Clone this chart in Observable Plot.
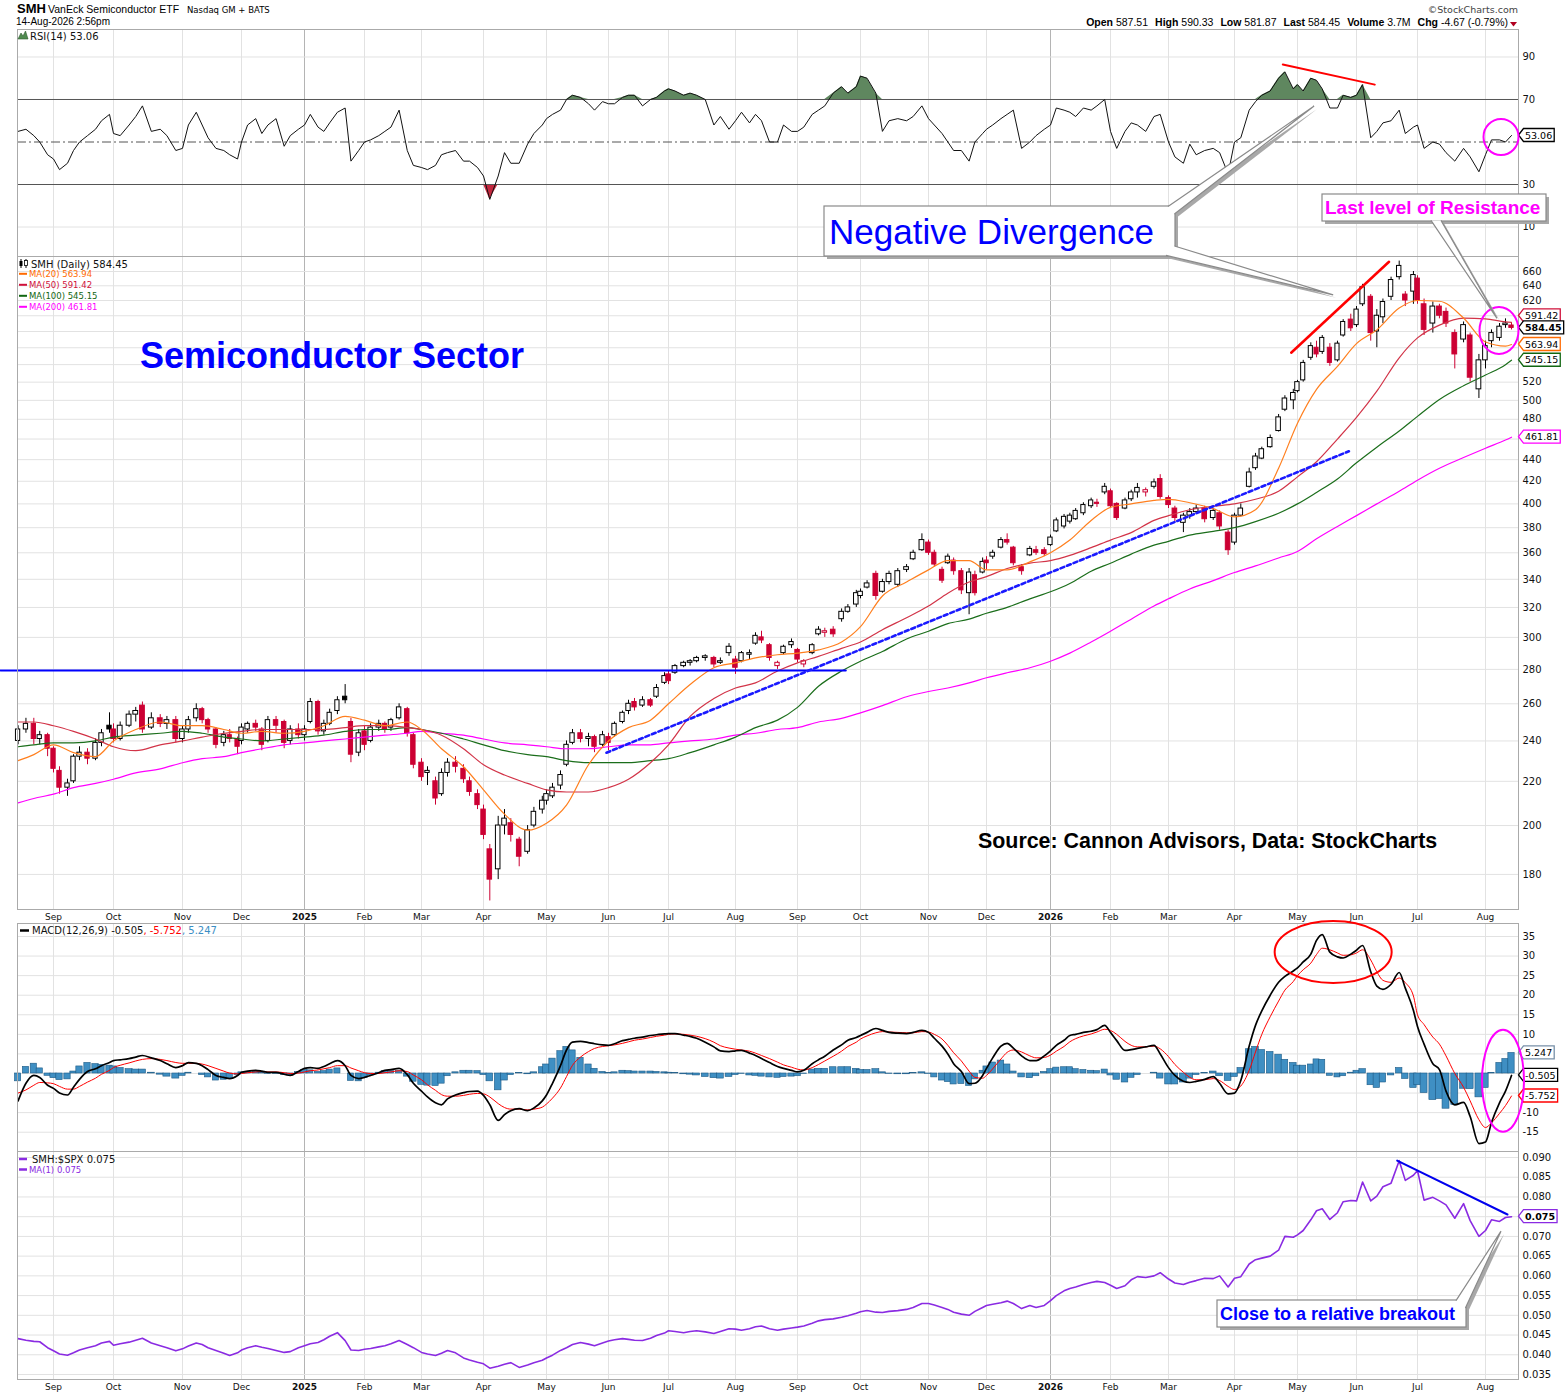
<!DOCTYPE html>
<html><head><meta charset="utf-8"><title>SMH - Semiconductor Sector</title>
<script src="https://cdn.jsdelivr.net/npm/d3@7"></script>
<script src="https://cdn.jsdelivr.net/npm/@observablehq/plot@0.6"></script>
<style>
html,body{margin:0;padding:0;background:#fff}
#page{position:relative;width:1565px;height:1396px;overflow:hidden;background:#fff}
#page svg{position:absolute;left:0;display:block}
</style></head><body><div id="page"></div>
<script>
// ---------------- time axis: month starts (StockCharts spaces them by trading days) ----------------
const monthStarts = ["2024-08-01","2024-09-01","2024-10-01","2024-11-01","2024-12-01","2025-01-01","2025-02-01","2025-03-01","2025-04-01","2025-05-01","2025-06-01","2025-07-01","2025-08-01","2025-09-01","2025-10-01","2025-11-01","2025-12-01","2026-01-01","2026-02-01","2026-03-01","2026-04-01","2026-05-01","2026-06-01","2026-07-01","2026-08-01","2026-09-01"];
const monthPx = [-8,53,113,182,241,304,364,421,483,546,608,668,735,797,860,928,986,1050,1110,1168,1234,1297,1356,1417,1485,1547];
const tickLabels = ["Sep","Oct","Nov","Dec","2025","Feb","Mar","Apr","May","Jun","Jul","Aug","Sep","Oct","Nov","Dec","2026","Feb","Mar","Apr","May","Jun","Jul","Aug"];
const sampleDays = [1,4,8,11,14,18,22,25,29];   // sampled sessions per month
const maDays = [1,11,22];                        // moving-average read points per month

// ---------------- SMH candles ----------------
const opens = [
240,246,249,241,243,
236,225,217,220,232,234,231,239,248,
246,241,248,254,259,247,252,249,251,
241,246,252,257,251,246,239,243,241,
240,246,249,246,240,251,250,240,246,
243,250,261,245,249,256,264,250,234,
245,240,247,249,247,252,257,243,
229,224,220,214,224,229,226,220,214,
207,190,182,200,201,194,189,200,207,
211,213,218,228,239,244,241,242,238,
242,243,250,256,261,259,262,264,272,
277,278,282,284,285,287,287,284,290,
286,285,289,296,300,295,282,290,295,
292,283,290,302,303,305,312,317,322,
328,334,344,331,338,336,347,355,362,
368,360,347,352,354,346,330,343,345,
354,357,364,370,364,349,358,362,362,
366,377,381,385,387,392,398,401,410,
411,400,396,404,410,410,415,422,
405,396,384,390,393,396,388,392,376,
368,390,415,432,441,452,468,490,500,
510,522,548,560,555,560,545,575,595,
588,615,625,580,598,625,652,628,632,
650,615,590,612,605,578,570,575,512,
545,568,572,588,587.51];
const highs = [
248,252,252,245,244,
237,227,221,233,237,236,241,246,255,
249,250,256,258,261,255,254,253,253,
248,253,260,258,252,247,245,246,242,
249,250,251,247,253,253,251,248,249,
248,263,262,251,257,264,271,252,246,
248,249,251,250,252,260,258,244,
231,227,222,226,231,232,228,222,216,
209,192,204,207,203,195,200,208,213,
216,219,225,240,246,246,244,243,245,
244,250,256,262,263,264,263,271,278,
279,283,285,286,288,289,288,287,296,
288,291,292,303,304,296,285,295,299,
293,286,296,307,306,307,319,322,332,
333,339,346,340,346,348,351,362,375,
370,362,349,359,356,348,348,346,356,
357,362,372,375,365,351,365,365,364,
374,388,391,392,396,401,405,404,418,
413,401,405,412,418,414,422,426,
407,398,392,396,399,398,396,394,378,
392,400,432,446,452,464,485,505,512,
522,545,566,568,575,565,568,595,602,
612,642,628,608,622,652,675,632,660,
654,622,618,615,610,582,592,578,552,
568,582,590,596,590.33];
const lows = [
238,244,238,238,232,
224,214,213,219,230,228,230,237,244,
239,240,247,250,244,246,247,246,239,
239,244,250,249,244,236,237,239,233,
238,244,245,235,239,244,236,238,241,
240,249,243,243,248,254,260,229,232,
235,239,245,244,245,251,242,226,
220,218,209,213,222,224,219,213,207,
194,170,178,196,193,183,188,199,205,
209,212,216,227,238,239,237,234,237,
235,242,249,254,256,258,258,263,271,
271,277,281,282,284,285,281,283,288,
277,284,286,295,296,285,280,289,293,
284,281,289,301,300,300,310,316,320,
326,333,325,330,336,334,345,354,361,
358,349,337,351,343,329,315,328,344,
347,355,363,366,350,343,357,358,357,
365,376,379,383,386,390,396,397,408,
396,386,395,402,405,406,413,404,
396,385,376,387,391,384,386,378,358,
366,389,414,430,440,451,467,488,490,
508,520,545,548,552,538,543,573,580,
585,612,568,560,590,620,648,612,615,
615,575,578,596,585,535,566,520,502,
535,560,568,584,581.87];
const closes = [
246,249,241,243,236,
226,217,219,232,234,231,239,244,246,
241,248,254,256,246,252,249,251,241,
246,251,257,251,246,238,243,241,237,
247,249,247,238,251,248,239,246,243,
246,261,245,249,255,262,262,233,244,
238,247,249,246,251,258,244,228,
222,225,212,224,229,227,221,215,209,
196,178,200,203,196,187,198,206,211,
214,217,223,238,244,241,242,237,243,
239,249,255,260,258,262,259,269,276,
273,282,284,285,287,288,283,285,294,
281,290,290,301,298,287,284,294,297,
286,285,295,305,304,302,317,320,330,
331,337,328,338,344,346,349,360,370,
360,351,339,357,346,332,345,330,353,
352,360,370,368,352,346,363,360,359,
372,386,389,390,394,399,403,400,415,
398,388,403,410,414,412,419,406,
399,388,390,393,396,387,394,381,362,
390,396,428,443,450,461,482,502,508,
520,542,562,552,572,542,565,592,584,
608,638,578,600,618,648,668,620,655,
620,582,612,600,590,552,588,525,545,
562,578,586,590,584.45];

// ---------------- moving averages (read at maDays) ----------------
const ma20 = [230,233, 238,234,232, 240,246,250, 248,248,246, 244,245,244, 245,248,253, 251,248,250, 246,236,227, 216,205,198, 201,209,228, 240,247,251, 260,271,281, 284,287,289, 290,292,297, 307,328,338, 347,354,354, 347,347,353, 360,370,386, 397,400,403, 404,401,396, 389,395,432, 476,512,538, 565,582,610, 620,619,597, 567,562,563.94];
const ma50 = [250,250, 248,245,241, 237,235,238, 240,242,244, 245,246,246, 246,246,247, 248,248,247, 246,243,236, 228,223,219, 216,215,215, 217,221,229, 238,253,263, 269,272,279, 284,288,293, 297,305,313, 321,330,338, 342,348,352, 354,358,364, 370,376,386, 390,395,398, 400,404,411, 424,438,460, 482,510,548, 572,588,597, 596,592,591.42];
const ma100 = [237,238, 239,239,240, 242,243,244, 245,244,242, 241,240,241, 242,243,245, 246,246,247, 246,244,241, 238,235,233, 232,230,229, 229,229,230, 231,234,238, 242,247,251, 258,270,279, 285,291,299, 304,309,312, 316,320,326, 331,337,346, 352,359,366, 369,374,377, 380,385,392, 400,410,422, 437,452,468, 483,501,516, 528,540,545.15];
const ma200 = [210,212, 214,217,219, 221,224,226, 229,231,232, 234,236,238, 239,240,241, 242,243,244, 245,244,243, 241,239,238, 237,236,236, 237,238,238, 239,240,241, 243,244,246, 247,250,252, 255,259,264, 267,269,272, 275,278,281, 285,290,297, 304,312,321, 326,333,339, 345,350,356, 361,371,381, 390,400,411, 421,432,442, 451,459,461.81];

// ---------------- RSI(14) ----------------
const rsi14 = [
55,56,53,50,44,
42,37,40,46,50,53,56,60,63,
54,53,58,62,67,55,56,53,46,
47,58,64,58,52,47,46,44,42,
50,58,61,54,58,61,48,53,56,
58,63,57,55,59,64,66,41,46,
50,51,53,55,57,65,46,39,
38,37,39,44,45,46,41,41,38,
34,23,34,45,40,40,49,54,58,
61,63,65,70,72,71,68,65,69,
68,68,71,72,72,67,70,71,74,
75,74,72,73,72,70,58,62,56,
60,64,59,63,60,50,50,58,55,
55,57,63,65,67,73,76,73,76,
81,80,73,55,60,61,60,62,67,
61,58,54,50,46,46,41,50,54,
56,58,61,63,65,47,50,53,56,
58,66,65,64,62,66,65,67,70,
55,47,55,59,58,55,62,63,
50,43,40,49,44,46,47,45,35,
50,52,65,69,72,74,80,83,75,
77,74,80,79,75,66,66,72,71,
72,77,52,55,59,60,65,54,57,
58,47,50,49,45,41,47,43,36,
44,51,51,50,53.06];

// ---------------- MACD(12,26,9) ----------------
const macdLine = [
-7,-2.5,-0.5,-1,-3,
-3.8,-5,-5.5,-3.5,-1.5,0.5,1.2,2,2.8,
3.3,3.5,3.8,4.2,4.6,4,3.3,2.5,1.5,
2,2.8,2.6,2,1,-0.5,-1,-1.3,-0.5,
0.3,0.6,0.8,0.6,0.3,0.3,-0.2,-0.5,0.5,
1.3,1.5,1.3,1.8,2.5,3.3,2,-0.5,-1.3,
-1,-0.5,0.2,0.8,1,1.3,-0.3,-2.5,
-4.5,-6,-7.5,-8,-6.5,-5.5,-4.9,-4.6,-4.5,
-5.6,-8,-12,-10.5,-9.5,-9,-9.5,-8.8,-7,
-5.5,-2.5,2,6,8,8.2,7.9,7.6,7.3,
7.2,7.6,8.4,8.7,9,9.3,9.7,9.9,10.1,
10.2,10.2,9.8,9.5,9,8,6.8,5.8,5.6,
5.8,5.9,5.2,4.6,3.8,2.8,1.8,1.3,0.8,
0.4,0.8,2.5,3.5,4.4,6,7.3,8.5,9.2,
9.7,10.5,11.5,11,10.5,10.3,10.2,10.5,11,
10.5,9,7,5,2.5,0.5,-2.6,-2.5,-0.5,
1.3,4,7,7.7,6.5,4.5,3.3,3.3,4.5,
5.8,7.2,8.5,9.7,10,10.5,10.8,11.2,12.3,
10.5,8.4,5.9,6.1,6.4,6.8,7.2,5,
1.5,-0.5,-2,-2.3,-2,-1.5,-0.8,-2.5,-5.2,
-5,-1.8,7,12.3,16,20,23.3,24.8,26.2,
27,28.5,30.5,34,35.5,31,29.8,29.5,30.5,
31.5,32.7,26,22.3,21.5,22.8,25.8,21.8,16.1,
12,7.5,2.5,1,-4.5,-8,-7.4,-11,-17.9,
-17.5,-12.5,-7.5,-4.5,-0.505];
const macdSignal = [
-5,-4.2,-3,-2.3,-2.4,
-2.6,-3.3,-4,-4,-3.3,-2.2,-1.2,-0.2,0.8,
1.5,2.1,2.7,3.2,3.6,3.8,3.6,3.3,2.8,
2.6,2.6,2.6,2.4,2,1.3,0.6,0.1,-0.1,
0,0.2,0.4,0.5,0.4,0.4,0.2,0,0.1,
0.4,0.7,0.9,1.2,1.5,2,2,1.4,0.7,
0.2,0,0,0.2,0.4,0.7,0.5,-0.4,
-1.6,-2.9,-4.3,-5.4,-5.8,-5.8,-5.6,-5.3,-5.1,
-5.2,-6,-7.7,-8.7,-9.1,-9.1,-9.3,-9.1,-8.6,
-7.8,-6.3,-3.7,-0.8,2.1,4.2,5.6,6.4,6.9,
7.1,7.3,7.7,8.1,8.5,8.8,9.2,9.5,9.8,
10,10.1,10,9.8,9.5,8.9,8,7.1,6.5,
6.2,6,5.7,5.2,4.6,3.8,2.9,2.2,1.6,
1.1,0.9,1.5,2.3,3.2,4.4,5.7,6.9,8,
8.8,9.6,10.4,10.7,10.6,10.5,10.4,10.4,10.7,
10.6,10,8.8,7.2,5.3,3.2,0.6,-1,-1.2,
-0.5,1.2,3.7,5.4,6,5.5,4.5,4,4.1,
4.7,5.7,6.9,8.1,8.9,9.6,10.1,10.6,11.3,
11,10,8.2,7.2,6.8,6.8,7,6.3,
4.3,2.3,0.3,-1,-1.6,-1.6,-1.3,-1.8,-3.3,
-4.1,-3.2,0.8,5.5,10,14.5,18.5,21.3,23.5,
25,26.5,28.2,30.4,32,31.6,30.8,30.2,30.3,
30.8,31.6,29,26,23.8,23.3,24.4,23.2,19.8,
15,12.5,9.3,7.5,4.5,0,-3.5,-7,-11.8,
-13.8,-12.6,-10.2,-8.2,-5.752];

// ---------------- SMH:$SPX ratio ----------------
const smhSpx = [
0.0441,0.0437,0.0434,0.0433,0.0418,
0.0410,0.0402,0.0399,0.0405,0.0412,0.0418,0.0423,0.0430,0.0434,
0.0424,0.0428,0.0432,0.0437,0.0442,0.0430,0.0423,0.0418,0.0410,
0.0415,0.0422,0.0430,0.0426,0.0418,0.0411,0.0404,0.0398,0.0405,
0.0412,0.0418,0.0423,0.0419,0.0416,0.0411,0.0406,0.0408,0.0418,
0.0423,0.0428,0.0431,0.0438,0.0447,0.0456,0.0436,0.0412,0.0411,
0.0414,0.0416,0.0420,0.0423,0.0428,0.0436,0.0426,0.0418,
0.0406,0.0402,0.0398,0.0404,0.0411,0.0405,0.0392,0.0387,0.0381,
0.0377,0.0366,0.0371,0.0376,0.0380,0.0368,0.0374,0.0380,0.0386,
0.0392,0.0399,0.0411,0.0418,0.0426,0.0431,0.0427,0.0423,0.0430,
0.0435,0.0438,0.0441,0.0439,0.0437,0.0436,0.0442,0.0449,0.0455,
0.0461,0.0459,0.0456,0.0459,0.0461,0.0458,0.0454,0.0459,0.0466,
0.0465,0.0462,0.0466,0.0471,0.0473,0.0466,0.0462,0.0465,0.0468,
0.0470,0.0473,0.0480,0.0486,0.0489,0.0491,0.0495,0.0499,0.0505,
0.0509,0.0512,0.0508,0.0507,0.0510,0.0512,0.0515,0.0520,0.0530,
0.0530,0.0526,0.0520,0.0515,0.0508,0.0503,0.0500,0.0510,0.0520,
0.0525,0.0528,0.0532,0.0536,0.0530,0.0517,0.0525,0.0520,0.0525,
0.0537,0.0550,0.0562,0.0568,0.0572,0.0578,0.0583,0.0586,0.0583,
0.0576,0.0568,0.0575,0.0590,0.0598,0.0596,0.0600,0.0608,
0.0592,0.0582,0.0578,0.0584,0.0588,0.0594,0.0593,0.0600,0.0572,
0.0594,0.0598,0.0630,0.0641,0.0645,0.0650,0.0665,0.0700,0.0698,
0.0704,0.0715,0.0742,0.0765,0.0770,0.0743,0.0760,0.0788,0.0791,
0.0790,0.0838,0.0790,0.0802,0.0826,0.0835,0.0892,0.0842,0.0855,
0.0867,0.0792,0.0799,0.0790,0.0780,0.0746,0.0783,0.0740,0.0700,
0.0715,0.0742,0.0738,0.0748,0.0750];

// ---------------- drawn annotations (data coordinates) ----------------
const rsiDivergence   = [{date:"2026-04-24", v:86.5}, {date:"2026-06-10", v:77}];
const priceDivergence = [{date:"2026-04-28", v:554},  {date:"2026-06-17", v:674}];
const supportLine     = [{date:"2025-05-31", v:234},  {date:"2026-05-28", v:448}];
const resistanceLine  = [{date:"2024-08-05", v:279.4},{date:"2025-09-24", v:279.4}];
const ratioDownTrend  = [{date:"2026-06-21", v:0.0892},{date:"2026-08-12", v:0.07555}];
const rings = [
  {panel:"rsi",   date:"2026-08-09", v:52.1,  rx:17.5, ry:18,   color:"#ff00ff"},
  {panel:"price", date:"2026-08-08", v:580.6, rx:19.5, ry:23.5, color:"#ff00ff"},
  {panel:"macd",  date:"2026-05-20", v:30.9,  rx:58.5, ry:31,   color:"#ff0000"},
  {panel:"macd",  date:"2026-08-10", v:-2,    rx:21,   ry:51,   color:"#ff00ff"}
];
const tips = {
  negDivRsi:   {panel:"rsi",   date:"2026-05-10", v:66.7},
  negDivPrice: {panel:"price", date:"2026-05-20", v:627},
  resistance:  {panel:"price", date:"2026-08-07", v:596},
  breakout:    {panel:"ratio", date:"2026-08-09", v:0.0712}
};

// ================= build =================
const first = Date.UTC(2024,7,14), last = Date.UTC(2026,7,14);
function buildDates(days){
  const out=[];
  for(let k=2024*12+7;k<=2026*12+7;k++){
    const y=Math.floor(k/12), m=k%12;
    for(const d of days){
      const t=Date.UTC(y,m,d);
      if(new Date(t).getUTCMonth()!==m) continue;
      if(t>=first && t<=last) out.push(new Date(t));
    }
  }
  return out;
}
const dates = buildDates(sampleDays);
const maDates = buildDates(maDays); maDates.unshift(new Date(first)); maDates.push(new Date(last));
for (const [n,a] of Object.entries({opens,highs,lows,closes,rsi14,macdLine,macdSignal,smhSpx})) if(a.length!==dates.length) throw new Error(n+" has "+a.length+" values, expected "+dates.length);
for (const [n,a] of Object.entries({ma20,ma50,ma100,ma200})) if(a.length!==maDates.length) throw new Error(n+" has "+a.length+" values, expected "+maDates.length);

const toRows = arr => arr.map(d=>({date:new Date(d.date), v:d.v}));
const RED="#cc0033";
const candles = dates.map((d,i)=>({date:d,open:opens[i],high:highs[i],low:lows[i],close:closes[i],prev:i?closes[i-1]:opens[i]}));
candles.forEach(c=>{c.col = c.close>=c.prev ? "#000000" : RED; c.fillc = c.close<c.open ? c.col : "#ffffff";});
const maRows = maDates.map((d,i)=>({date:d, m20:ma20[i], m50:ma50[i], m100:ma100[i], m200:ma200[i]}));
const rsiRows = dates.map((d,i)=>({date:d, v:rsi14[i]}));
const macdRows = dates.map((d,i)=>({date:d, m:macdLine[i], s:macdSignal[i], h:macdLine[i]-macdSignal[i]}));
const ratioRows = dates.map((d,i)=>({date:d, v:smhSpx[i]}));
const lastM = macdRows[macdRows.length-1];

const tickRows = tickLabels.map((l,i)=>({date:new Date(monthStarts[i+1]), label:l, year:/^\d{4}$/.test(l)}));
const labelOf = new Map(tickRows.map(t=>[+t.date,t.label]));
const W=1565, ML=17, MR=47;
const VER="'DejaVu Sans', Verdana, sans-serif", SANS="'Liberation Sans', Arial, sans-serif";
const PANEL={rsi:29, price:256, macd:923, ratio:1151};
const Y_RSI={domain:[-3.88,102.94], range:[227,0]};
const Y_PRICE={type:"log", domain:[166.9,681.7], range:[653,0]};
const Y_MACD={domain:[-19.93,38.32], range:[228,0]};
const Y_RATIO={domain:[0.033733,0.091521], range:[228,0]};
// tick labels that sit under a last-value box are covered in the original, so they are left out
function freeTicks(ticks, cfg, vals){
  const s=(cfg.type==="log"?d3.scaleLog():d3.scaleLinear()).domain(cfg.domain).range(cfg.range);
  return ticks.filter(t=>vals.every(v=>Math.abs(s(t)-s(v))>=11));
}
const xOpt = () => ({type:"utc", domain:monthStarts.map(s=>new Date(s)), range:monthPx, axis:null});
const style = {fontFamily:VER, fontSize:"10px", background:"transparent", overflow:"visible", color:"#111"};
const off = (d,h)=>d3.utcHour.offset(d,h);
const vGrid = () => Plot.ruleX(tickRows, {x:"date", stroke:d=>d.year?"#b4b4b4":"#e2e2e2", strokeWidth:1});
const hGrid = t => Plot.ruleY(t, {stroke:"#e2e2e2", strokeWidth:1});
const xLabels = () => [
  Plot.axisX(tickRows.filter(t=>!t.year).map(t=>t.date), {anchor:"bottom", label:null, tickSize:0, tickPadding:4, fontSize:9, tickFormat:d=>labelOf.get(+d)}),
  Plot.axisX(tickRows.filter(t=>t.year).map(t=>t.date), {anchor:"bottom", label:null, tickSize:0, tickPadding:4, fontSize:9, fontWeight:"bold", tickFormat:d=>labelOf.get(+d)})
];
const yAxis = (ticks, fmt) => Plot.axisY({anchor:"right", label:null, ticks, tickSize:0, tickPadding:4, fontSize:10, ...(fmt?{tickFormat:fmt}:{})});

// ---- RSI panel ----
const rsiTicks=[10,30,50,70,90];
const rsiChart = Plot.plot({
  width:W, height:227, marginLeft:ML, marginRight:MR, marginTop:0, marginBottom:0, style,
  x:xOpt(), y:{...Y_RSI, axis:null},
  marks:[
    vGrid(), hGrid([10,90]),
    Plot.areaY(rsiRows,{x:"date", y1:()=>70, y2:d=>Math.max(70,d.v), fill:"#5f875f"}),
    Plot.areaY(rsiRows,{x:"date", y1:d=>Math.min(30,d.v), y2:()=>30, fill:"#c4283f"}),
    Plot.ruleY([70,30],{stroke:"#555"}),
    Plot.ruleY([50],{stroke:"#555", strokeDasharray:"9,3,2,3"}),
    Plot.line(rsiRows,{x:"date", y:"v", stroke:"#111", strokeWidth:1}),
    Plot.line(toRows(rsiDivergence),{x:"date", y:"v", stroke:"#ff0000", strokeWidth:2}),
    yAxis(freeTicks(rsiTicks, Y_RSI, [rsi14[rsi14.length-1]])),
    Plot.frame({stroke:"#aaa"})
  ]
});

// ---- price panel ----
const priceTicks=d3.range(180,661,20);
const priceChart = Plot.plot({
  width:W, height:667, marginLeft:ML, marginRight:MR, marginTop:0, marginBottom:14, style,
  x:xOpt(), y:{...Y_PRICE, axis:null},
  marks:[
    vGrid(), hGrid(priceTicks),
    Plot.ruleX(candles,{x:"date", y1:"low", y2:"high", stroke:"col", strokeWidth:1}),
    Plot.rect(candles,{x1:d=>off(d.date,-26), x2:d=>off(d.date,26), y1:d=>Math.min(d.open,d.close), y2:d=>Math.max(d.open,d.close), fill:"fillc", stroke:"col", strokeWidth:1}),
    Plot.line(maRows,{x:"date", y:"m200", stroke:"#ff00ff", strokeWidth:1.2, curve:"monotone-x"}),
    Plot.line(maRows,{x:"date", y:"m100", stroke:"#1b6e1b", strokeWidth:1.2, curve:"monotone-x"}),
    Plot.line(maRows,{x:"date", y:"m50", stroke:"#d23448", strokeWidth:1.2, curve:"monotone-x"}),
    Plot.line(maRows,{x:"date", y:"m20", stroke:"#ff7f1e", strokeWidth:1.2, curve:"monotone-x"}),
    Plot.line(toRows(resistanceLine),{x:"date", y:"v", stroke:"#0000ff", strokeWidth:2}),
    Plot.line(toRows(supportLine),{x:"date", y:"v", stroke:"#1a1aff", strokeWidth:2.6, strokeDasharray:"4,3"}),
    Plot.line(toRows(priceDivergence),{x:"date", y:"v", stroke:"#ff0000", strokeWidth:2.5}),
    yAxis(freeTicks(priceTicks, Y_PRICE, [ma50[ma50.length-1], closes[closes.length-1], ma20[ma20.length-1], ma100[ma100.length-1], ma200[ma200.length-1]])),
    ...xLabels(),
    Plot.frame({stroke:"#aaa"})
  ]
});

// ---- MACD panel ----
const macdTicks=d3.range(-15,36,5);
const macdChart = Plot.plot({
  width:W, height:228, marginLeft:ML, marginRight:MR, marginTop:0, marginBottom:0, style,
  x:xOpt(), y:{...Y_MACD, axis:null},
  marks:[
    vGrid(), hGrid(macdTicks),
    Plot.rect(macdRows,{x1:d=>off(d.date,-38), x2:d=>off(d.date,38), y1:()=>0, y2:"h", fill:"#3f8fc3", stroke:"#1d5a85", strokeWidth:0.6}),
    Plot.line(macdRows,{x:"date", y:"s", stroke:"#ff0000", strokeWidth:1, curve:"monotone-x"}),
    Plot.line(macdRows,{x:"date", y:"m", stroke:"#000", strokeWidth:1.7, curve:"monotone-x"}),
    yAxis(freeTicks(macdTicks, Y_MACD, [lastM.h, lastM.m, lastM.s]), d=>d<0?"-"+Math.abs(d):String(d)),
    Plot.frame({stroke:"#aaa"})
  ]
});

// ---- ratio panel ----
const ratioTicks=d3.range(7,19).map(k=>+(k*0.005).toFixed(3));
const ratioChart = Plot.plot({
  width:W, height:245, marginLeft:ML, marginRight:MR, marginTop:0, marginBottom:17, style,
  x:xOpt(), y:{...Y_RATIO, axis:null},
  marks:[
    vGrid(), hGrid(ratioTicks),
    Plot.line(ratioRows,{x:"date", y:"v", stroke:"#8a2be2", strokeWidth:1.6}),
    Plot.line(toRows(ratioDownTrend),{x:"date", y:"v", stroke:"#0000ee", strokeWidth:2}),
    yAxis(freeTicks(ratioTicks, Y_RATIO, [smhSpx[smhSpx.length-1]]), d3.format(".3f")),
    ...xLabels(),
    Plot.frame({stroke:"#aaa"})
  ]
});

const page=document.getElementById("page");
const charts={rsi:rsiChart, price:priceChart, macd:macdChart, ratio:ratioChart};
for(const [k,c] of Object.entries(charts)){ c.style.top=PANEL[k]+"px"; page.appendChild(c); }

// ================= overlay: legends, value boxes, callouts =================
const ov=d3.select(page).append("svg").attr("width",W).attr("height",1396).style("top","0px").style("pointer-events","none");
const X = d => rsiChart.scale("x").apply(new Date(d));
const Y = (panel,v) => PANEL[panel] + charts[panel].scale("y").apply(v);

function txt(x,y,s,o={}){
  return ov.append("text").attr("x",x).attr("y",y).attr("font-family",o.family||VER).attr("font-size",o.size||10)
    .attr("font-weight",o.weight||"normal").attr("fill",o.fill||"#111").attr("text-anchor",o.anchor||"start").text(s);
}
function swatch(x1,x2,y,color,w=2.5){ ov.append("line").attr("x1",x1).attr("x2",x2).attr("y1",y).attr("y2",y).attr("stroke",color).attr("stroke-width",w); }

// header
txt(17,13,"SMH",{family:SANS,size:13,weight:"bold",fill:"#000"});
txt(48,13,"VanEck Semiconductor ETF",{family:SANS,size:10.5,fill:"#000"});
txt(187,13,"Nasdaq GM + BATS",{size:8.5,fill:"#000"});
txt(16,25,"14-Aug-2026 2:56pm",{family:SANS,size:10,fill:"#000"});
txt(1518,13,"\u00A9StockCharts.com",{family:VER,size:9.5,fill:"#444",anchor:"end"});
{
  const t=ov.append("text").attr("x",1508).attr("y",26).attr("text-anchor","end").attr("font-family",SANS).attr("font-size",10.5).attr("fill","#000");
  const parts=[["Open",1],[" 587.51",0],["High",1],[" 590.33",0],["Low",1],[" 581.87",0],["Last",1],[" 584.45",0],["Volume",1],[" 3.7M",0],["Chg",1],[" -4.67 (-0.79%)",0]];
  parts.forEach((p,i)=>{ const s=t.append("tspan").attr("font-weight",p[1]?"bold":"normal").text(p[0]); if(p[1]&&i>0) s.attr("dx",7); });
  ov.append("path").attr("d","M1510,22 L1517,22 L1513.5,26.5 Z").attr("fill","#b00020");
}

// legends
ov.append("path").attr("d","M18,39 L21,33 L23,36 L25.5,31 L28,39 Z").attr("fill","#4f8a4f").attr("stroke","#2d5a2d").attr("stroke-width",0.6);
txt(30,40,"RSI(14) 53.06",{size:10});
ov.append("g").call(g=>{
  g.append("line").attr("x1",21).attr("x2",21).attr("y1",259).attr("y2",268).attr("stroke","#000");
  g.append("rect").attr("x",19.5).attr("y",261).attr("width",3).attr("height",5).attr("fill","#000");
  g.append("line").attr("x1",26).attr("x2",26).attr("y1",259).attr("y2",268).attr("stroke","#000");
  g.append("rect").attr("x",24.5).attr("y",260.5).attr("width",3).attr("height",5).attr("fill","#fff").attr("stroke","#000").attr("stroke-width",0.8);
});
txt(31,268,"SMH (Daily) 584.45",{size:10});
[["MA(20) 563.94","#ff6a00",277],["MA(50) 591.42","#d0103a",288],["MA(100) 545.15","#116611",299],["MA(200) 461.81","#ff00ff",310]].forEach(([s,c,y])=>{swatch(19,27,y-3.2,c,2);txt(29,y,s,{size:8.5,fill:c});});
swatch(20,29,930.5,"#000",2.5);
{
  const t=txt(32,934,"MACD(12,26,9) -0.505",{size:10});
  t.append("tspan").attr("fill","#ff0000").text(", -5.752");
  t.append("tspan").attr("fill","#3b8ec4").text(", 5.247");
}
swatch(19,27,1159,"#8a2be2",2.5); txt(32,1163,"SMH:$SPX 0.075",{size:10});
swatch(19,27,1169.5,"#8a2be2",2.5); txt(29,1173,"MA(1) 0.075",{size:8.5,fill:"#8a2be2"});

// value boxes on the right axis
function valueBox(y,label,color,bold){
  const g=ov.append("g"); const p=g.append("path");
  const t=g.append("text").attr("x",1525).attr("y",y+3.6).attr("font-family",VER).attr("font-size",9.5).attr("font-weight",bold?"bold":"normal").attr("fill","#000").text(label);
  const w=t.node().getComputedTextLength();
  p.attr("d",`M1518.5,${y} L1523.5,${y-6.5} H${1527+w} V${y+6.5} H1523.5 Z`).attr("fill","#fff").attr("stroke",color).attr("stroke-width",1.3);
}
valueBox(Y("rsi",rsi14[rsi14.length-1]),"53.06","#000",false);
const yClose=Y("price",closes[closes.length-1]);
valueBox(Math.min(Y("price",ma50[ma50.length-1]), yClose-12),"591.42","#d0103a",false);
valueBox(yClose,"584.45","#000",true);
valueBox(Y("price",ma20[ma20.length-1]),"563.94","#ff6a00",false);
valueBox(Y("price",ma100[ma100.length-1]),"545.15","#116611",false);
valueBox(Y("price",ma200[ma200.length-1]),"461.81","#ff00ff",false);
valueBox(Y("macd",lastM.h),"5.247","#7890a8",false);
valueBox(Y("macd",lastM.m),"-0.505","#000",false);
valueBox(Y("macd",lastM.s),"-5.752","#ff0000",false);
valueBox(Y("ratio",smhSpx[smhSpx.length-1]),"0.075","#8a2be2",true);

// rings
rings.forEach(r=>ov.append("ellipse").attr("cx",X(r.date)).attr("cy",Y(r.panel,r.v)).attr("rx",r.rx).attr("ry",r.ry).attr("fill","none").attr("stroke",r.color).attr("stroke-width",2));

// callouts
function tipXY(t){ return [X(t.date), Y(t.panel,t.v)]; }
function callout(box, tails, label, o){
  const g=ov.append("g");
  const sh=3;
  tails.forEach(([b1,b2,tip])=>g.append("path").attr("d",`M${b1[0]+sh},${b1[1]+sh} L${tip[0]+sh},${tip[1]+sh} L${b2[0]+sh},${b2[1]+sh} Z`).attr("fill","#a8a8a8"));
  g.append("rect").attr("x",box[0]+sh).attr("y",box[1]+sh).attr("width",box[2]-box[0]).attr("height",box[3]-box[1]).attr("fill","#a8a8a8");
  g.append("rect").attr("x",box[0]).attr("y",box[1]).attr("width",box[2]-box[0]).attr("height",box[3]-box[1]).attr("fill","#fff").attr("stroke","#8a8a8a").attr("stroke-width",1.2);
  tails.forEach(([b1,b2,tip])=>{
    g.append("path").attr("d",`M${b1[0]},${b1[1]} L${tip[0]},${tip[1]} L${b2[0]},${b2[1]} Z`).attr("fill","#fff");
    g.append("path").attr("d",`M${b1[0]},${b1[1]} L${tip[0]},${tip[1]} L${b2[0]},${b2[1]}`).attr("fill","none").attr("stroke","#8a8a8a").attr("stroke-width",1.2);
  });
  g.append("text").attr("x",o.x).attr("y",o.y).attr("font-family",SANS).attr("font-size",o.size).attr("font-weight",o.weight||"normal").attr("fill",o.fill).text(label);
}
callout([824,206,1175,256],[[[1168,206.6],[1174.4,214],tipXY(tips.negDivRsi)],[[1174.4,246],[1166,255.4],tipXY(tips.negDivPrice)]],"Negative Divergence",{x:829,y:244,size:35,fill:"#0000ff"});
callout([1322,194,1546,221],[[[1431,220.4],[1441,220.4],tipXY(tips.resistance)]],"Last level of Resistance",{x:1325,y:214,size:19,weight:"bold",fill:"#ff00ff"});
callout([1217,1300,1466,1327],[[[1456,1300.6],[1465.4,1308],tipXY(tips.breakout)]],"Close to a relative breakout",{x:1220,y:1320,size:18,weight:"bold",fill:"#0000ff"});

// free text
txt(140,368,"Semiconductor Sector",{family:SANS,size:36,weight:"bold",fill:"#0000ff"});
txt(978,848,"Source: Cannon Advisors, Data: StockCharts",{family:SANS,size:21.4,weight:"bold",fill:"#000"});
</script></body></html>
